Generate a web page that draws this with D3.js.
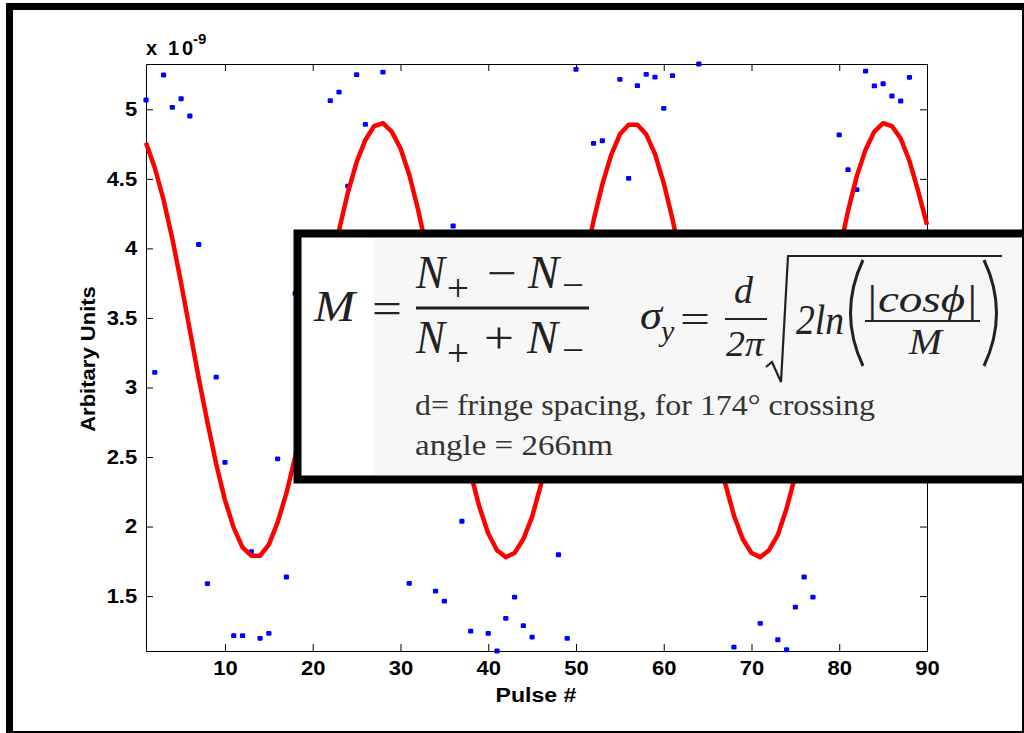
<!DOCTYPE html>
<html>
<head>
<meta charset="utf-8">
<script src="https://cdn.jsdelivr.net/npm/d3@7"></script>
<style>
  body { margin: 0; background: #fff; }
  svg { display: block; }
  .tick text { font-family: "Liberation Sans", Arial, sans-serif; font-weight: bold; font-size: 20px; fill: #000; }
  .axis path, .axis line { stroke: #000; stroke-width: 1; }
  .eq { font-family: "Liberation Serif", "Times New Roman", serif; fill: #222; }
</style>
</head>
<body>
<script>
// measured pulses (only those visible around the inset box)
var dotPulse = [1,2,3,4,5,6,7,8,9,10,11,12,13,14,15,16,17,18,22,23,24,25,26,28,31,34,35,36,37,38,
                40,41,42,43,44,45,48,49,50,52,53,55,56,57,58,59,60,61,64,68,71,73,74,75,76,77,
                80,81,82,83,84,85,86,87,88];
var dotValue = [5.067,3.109,5.247,5.014,5.076,4.952,4.028,1.590,3.075,2.462,1.215,1.215,1.819,1.196,1.232,2.487,1.637,3.677,
                5.062,5.124,4.448,5.249,4.892,5.268,1.591,1.536,1.464,4.161,2.038,1.248,
                1.232,1.105,1.340,1.493,1.287,1.205,1.797,1.196,5.288,4.755,4.774,5.216,4.504,5.170,5.252,5.232,5.007,5.242,
                5.326,1.133,1.304,1.186,1.114,1.421,1.637,1.493,
                4.817,4.566,4.422,5.275,5.168,5.184,5.096,5.060,5.230];

// fitted curve, one value per pulse 1..90
var fitValue = [4.76,4.58,4.35,4.07,3.75,3.41,3.07,2.75,2.45,2.19,
                1.99,1.85,1.79,1.79,1.87,2.03,2.24,2.50,2.81,3.14,
                3.48,3.81,4.13,4.40,4.62,4.78,4.88,4.90,4.84,4.72,
                4.53,4.28,3.99,3.67,3.33,2.99,2.67,2.38,2.14,1.95,
                1.83,1.78,1.81,1.91,2.07,2.30,2.58,2.89,3.23,3.57,
                3.89,4.20,4.46,4.67,4.82,4.89,4.89,4.82,4.68,4.47,
                4.21,3.91,3.58,3.24,2.91,2.59,2.31,2.08,1.91,1.81,
                1.78,1.83,1.94,2.13,2.37,2.65,2.97,3.31,3.65,3.97,
                4.27,4.52,4.71,4.84,4.90,4.88,4.79,4.63,4.41,4.17];

var xTicks = [10,20,30,40,50,60,70,80,90];
var yTicks = [1.5,2,2.5,3,3.5,4,4.5,5];

var W = 1024, H = 733,
    margin = {top: 64, right: 97, bottom: 82, left: 146},
    width  = W - margin.left - margin.right,
    height = H - margin.top - margin.bottom;

var svg = d3.select("body").append("svg").attr("width", W).attr("height", H);
svg.append("rect").attr("width", W).attr("height", H).attr("fill", "#fff");

var g = svg.append("g").attr("transform", "translate(" + margin.left + "," + margin.top + ")");

var x = d3.scaleLinear().domain([1, 90]).range([0, width]);
var y = d3.scaleLinear().domain(d3.extent(dotValue)).range([height, 0]);

// axes box, ticks pointing inward
g.append("g").attr("class", "axis")
    .attr("transform", "translate(0," + height + ")")
    .call(d3.axisBottom(x).tickValues(xTicks).tickSizeInner(-7).tickSizeOuter(0).tickPadding(10))
  .selectAll("text").attr("transform", "scale(1.1,1)");
g.append("g").attr("class", "axis")
    .call(d3.axisTop(x).tickValues(xTicks).tickSizeInner(-7).tickSizeOuter(0).tickFormat(""));
g.append("g").attr("class", "axis")
    .call(d3.axisLeft(y).tickValues(yTicks).tickSizeInner(-7).tickSizeOuter(0).tickPadding(8).tickFormat(String))
  .selectAll("text").attr("transform", "scale(1.1,1)");
g.append("g").attr("class", "axis")
    .attr("transform", "translate(" + width + ",0)")
    .call(d3.axisRight(y).tickValues(yTicks).tickSizeInner(-7).tickSizeOuter(0).tickFormat(""));

// data dots
g.append("g").selectAll("rect")
    .data(dotPulse)
  .enter().append("rect")
    .attr("x", function(d) { return x(d) - 2.6; })
    .attr("y", function(d, i) { return y(dotValue[i]) - 2.4; })
    .attr("width", 5.2).attr("height", 4.8).attr("rx", 1.2)
    .attr("fill", "#0000ff");

// fit
var line = d3.line()
    .x(function(d, i) { return x(i + 1); })
    .y(function(d) { return y(d); });

g.append("path")
    .datum(fitValue)
    .attr("d", line)
    .attr("fill", "none")
    .attr("stroke", "#ff0000")
    .attr("stroke-width", 4.5)
    .attr("stroke-linejoin", "round");

// labels
var lab = svg.append("g").attr("font-family", "'Liberation Sans', Arial, sans-serif").attr("font-weight", "bold");
lab.append("text").attr("x", 536).attr("y", 702).attr("text-anchor", "middle")
    .attr("font-size", 21).attr("transform", "translate(536,0) scale(1.1,1) translate(-536,0)").text("Pulse #");
lab.append("text").attr("transform", "translate(95,359) rotate(-90) scale(1.05,1)")
    .attr("text-anchor", "middle").attr("font-size", 21).text("Arbitary Units");
lab.append("text").attr("x", 146).attr("y", 55).attr("font-size", 20)
    .attr("textLength", 47).text("x 10");
lab.append("text").attr("x", 193).attr("y", 44).attr("font-size", 15).text("-9");

// inset box with the formulas
svg.append("rect").attr("x", 297.5).attr("y", 233.5).attr("width", 800).attr("height", 246)
    .attr("fill", "#fff").attr("stroke", "#000").attr("stroke-width", 8);
svg.append("rect").attr("x", 374).attr("y", 239).attr("width", 660).attr("height", 236).attr("fill", "#f7f7f7");

var eq = svg.append("g").attr("class", "eq");
function t(xp, yp, size, str, italic, len) {
  var e = eq.append("text").attr("x", xp).attr("y", yp).attr("font-size", size)
      .attr("font-style", italic ? "italic" : "normal").text(str);
  if (len) e.attr("textLength", len).attr("lengthAdjust", "spacingAndGlyphs");
  return e;
}
function bar(x1, x2, yp, w) {
  eq.append("line").attr("x1", x1).attr("x2", x2).attr("y1", yp).attr("y2", yp)
    .attr("stroke", "#222").attr("stroke-width", w || 2.5);
}

t(314, 321, 45, "M", true, 41);
t(372, 323, 44, "=", false, 30);
t(416, 288, 46, "N", true, 29);
t(447, 301, 38, "+", false, 22);
t(487, 288, 44, "\u2212", false, 30);
t(528, 288, 46, "N", true, 31);
t(562, 298, 38, "\u2212", false, 22);
bar(416, 589, 308, 3);
t(416, 353, 46, "N", true, 29);
t(447, 366, 38, "+", false, 22);
t(484, 353, 44, "+", false, 30);
t(527, 353, 46, "N", true, 31);
t(562, 363, 38, "\u2212", false, 22);

t(640, 329, 42, "\u03c3", true, 22);
t(661, 341, 30, "y", true);
t(680, 333, 40, "=", false, 30);
t(734, 303, 38, "d", true);
bar(725, 767, 319, 2.2);
t(726, 356, 36, "2\u03c0", true, 38);
eq.append("path").attr("d", "M766,367 L772,362 L781,382 L788,256 L1002,256")
    .attr("fill", "none").attr("stroke", "#222").attr("stroke-width", 2.2);
t(796, 334, 42, "2ln", true, 48);
eq.append("path").attr("d", "M863,260 Q838,313 863,366").attr("fill", "none").attr("stroke", "#222").attr("stroke-width", 3);
eq.append("path").attr("d", "M984,260 Q1009,313 984,366").attr("fill", "none").attr("stroke", "#222").attr("stroke-width", 3);
t(865, 312, 38, "|cos\u03d5|", true, 113);
bar(865, 980, 321, 2.2);
t(909, 354, 36, "M", true, 33);

eq.append("text").attr("x", 415).attr("y", 415).attr("font-size", 29).attr("fill", "#333")
    .attr("textLength", 460).attr("lengthAdjust", "spacingAndGlyphs").text("d= fringe spacing, for 174\u00b0 crossing");
eq.append("text").attr("x", 415).attr("y", 455).attr("font-size", 29).attr("fill", "#333")
    .attr("textLength", 198).attr("lengthAdjust", "spacingAndGlyphs").text("angle = 266nm");

// outer frame
svg.append("rect").attr("x", 9.5).attr("y", 6.5).attr("width", 1016).attr("height", 728)
    .attr("fill", "none").attr("stroke", "#000").attr("stroke-width", 7);
</script>
</body>
</html>
